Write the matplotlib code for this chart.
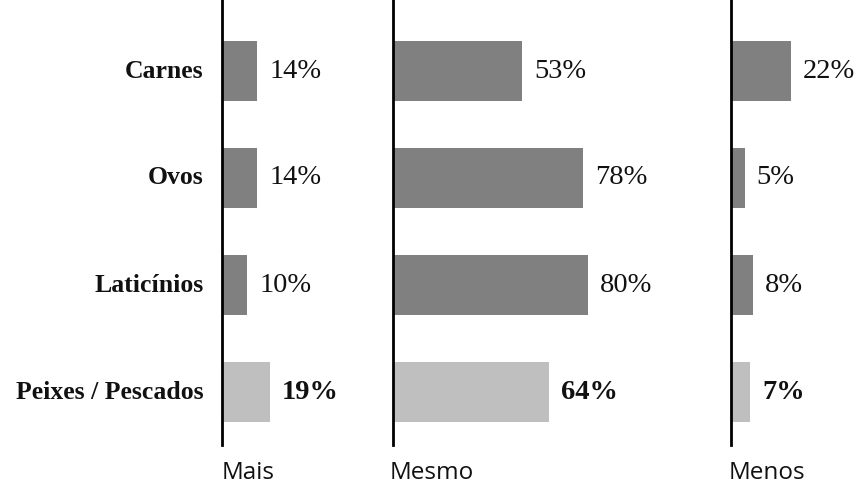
import matplotlib.pyplot as plt

# Share of responses per food group, split by "more / same / less"
categories = ["Carnes", "Ovos", "Laticínios", "Peixes / Pescados"]
groups = ["Mais", "Mesmo", "Menos"]
mais = [14, 14, 10, 19]
mesmo = [53, 78, 80, 64]
menos = [22, 5, 8, 7]

W, H = 857, 486
DPI = 100

# left edge (px), width (px), px per percentage point, group label shift (px)
panels = [
    (221.7, 150, 2.54, 0),
    (393.3, 300, 2.43, -4),
    (731.0, 120, 2.73, -2),
]

dark = "#808080"
light = "#bfbfbf"
serif = ["Liberation Serif", "DejaVu Serif"]

fig = plt.figure(figsize=(W / DPI, H / DPI), dpi=DPI)

top_px, bottom_px = 0, 445
first_center, step = 71, 107
y_top = (top_px - first_center) / step
y_bot = (bottom_px - first_center) / step

for (x0, wpx, scale, shift), name, values in zip(panels, groups, [mais, mesmo, menos]):
    ax = fig.add_axes([x0 / W, 1 - bottom_px / H, wpx / W, (bottom_px - top_px) / H])
    ax.set_xlim(0, wpx / scale)
    ax.set_ylim(y_bot, y_top)
    ypos = list(range(len(categories)))
    colors = [dark] * (len(categories) - 1) + [light]
    ax.barh(ypos, values, height=0.56, color=colors, edgecolor="none")
    for y, v in zip(ypos, values):
        bold = y == len(categories) - 1
        ax.text(v + 12 / scale, y, f"{v}%", va="center", ha="left",
                fontsize=20.5, family=serif,
                fontweight="bold" if bold else "normal", color="#111111")
    for side in ["top", "right", "bottom"]:
        ax.spines[side].set_visible(False)
    ax.spines["left"].set_linewidth(2)
    ax.spines["left"].set_color("black")
    ax.set_xticks([])
    ax.set_yticks([])
    ax.patch.set_alpha(0)
    ax.text(shift / scale, y_bot + 28 / step, name, ha="left", va="center",
            fontsize=17.5, family=["Open Sans", "DejaVu Sans"], color="#111111",
            clip_on=False)
    if name == "Mais":
        for y, c in enumerate(categories):
            ax.text(-18 / scale, y, c, ha="right", va="center",
                    fontsize=18.5, family=serif, fontweight="bold",
                    color="#111111")

fig.savefig("out.png", dpi=DPI)
